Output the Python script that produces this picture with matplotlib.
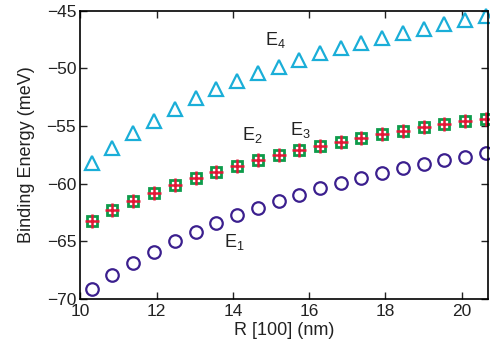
import numpy as np
import matplotlib.pyplot as plt

plt.rcParams['font.family'] = ['Liberation Sans', 'DejaVu Sans']

# Radio R [100] (nm)
R = [10.30, 10.84, 11.39, 11.94, 12.48, 13.03, 13.57, 14.12, 14.66, 15.20,
     15.74, 16.28, 16.83, 17.37, 17.91, 18.47, 19.01, 19.55, 20.09, 20.63]

# Energias de enlace (meV)
E1 = [-69.18, -67.96, -66.87, -65.91, -64.98, -64.17, -63.42, -62.75, -62.09, -61.50,
      -60.99, -60.40, -59.94, -59.48, -59.05, -58.64, -58.29, -57.95, -57.66, -57.31]
E2 = [-63.27, -62.32, -61.48, -60.79, -60.14, -59.51, -58.96, -58.44, -57.95, -57.54,
      -57.10, -56.76, -56.35, -56.03, -55.71, -55.40, -55.10, -54.82, -54.58, -54.36]
E3 = [-63.27, -62.32, -61.48, -60.79, -60.14, -59.51, -58.96, -58.44, -57.95, -57.54,
      -57.10, -56.76, -56.35, -56.03, -55.71, -55.40, -55.10, -54.82, -54.58, -54.36]
E4 = [-58.18, -56.88, -55.63, -54.53, -53.54, -52.59, -51.80, -51.08, -50.41, -49.84,
      -49.26, -48.68, -48.24, -47.75, -47.32, -46.89, -46.56, -46.16, -45.78, -45.43]

fig = plt.figure(figsize=(4.9, 3.51), dpi=100)
ax = fig.add_axes([0.164, 0.149, 0.8325, 0.82])

ax.plot(R, E1, 'o', ms=9, mfc='none', mec='#3b1f8e', mew=1.6, clip_on=False)
ax.plot(R, E2, 's', ms=6.5, mfc='none', mec='#0d9b4a', mew=2.0, clip_on=False)
ax.plot(R, E3, '+', ms=9.5, mec='#e31836', mew=1.8, clip_on=False)
ax.plot(R, E4, '^', ms=10, mfc='none', mec='#1aaed8', mew=1.6, clip_on=False)

# etiquetas de cada nivel
ax.text(13.77, -65.1, r'E$_\mathregular{1}$', fontsize=13, color='#222222', va='center')
ax.text(14.25, -55.8, r'E$_\mathregular{2}$', fontsize=13, color='#222222', va='center')
ax.text(15.5, -55.35, r'E$_\mathregular{3}$', fontsize=13, color='#222222', va='center')
ax.text(14.85, -47.5, r'E$_\mathregular{4}$', fontsize=13, color='#222222', va='center')

ax.set_xlim(10, 20.7)
ax.set_ylim(-70, -45)
ax.set_xticks([10, 12, 14, 16, 18, 20])
ax.set_yticks([-70, -65, -60, -55, -50, -45])
ax.tick_params(direction='in', top=True, right=True, length=5, width=1,
               labelsize=12.5, colors='#222222')
ax.tick_params(axis='x', pad=4)
ax.tick_params(axis='y', pad=3)
for s in ax.spines.values():
    s.set_linewidth(1.2)

ax.set_xlabel('R [100] (nm)', fontsize=13, color='#222222', labelpad=2)
ax.set_ylabel('Binding Energy (meV)', fontsize=13, color='#222222', labelpad=8)

plt.savefig('out.png', dpi=100)
